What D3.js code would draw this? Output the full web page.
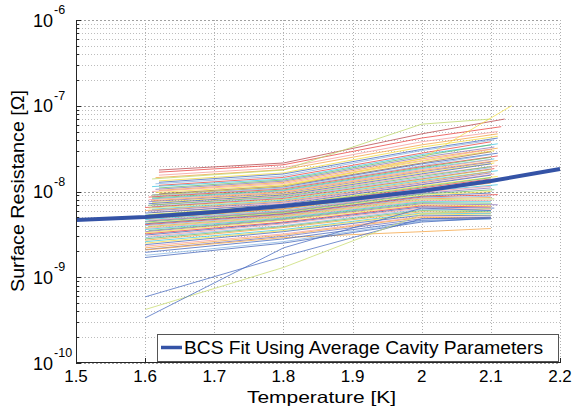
<!DOCTYPE html>
<html><head><meta charset="utf-8">
<script src="https://cdn.jsdelivr.net/npm/d3@7"></script>
<style>body{margin:0;background:#fff} svg{display:block;font-family:Arial,"Liberation Sans",sans-serif}</style>
</head><body><svg id="c" width="573" height="409"></svg>
<script>
// ---- data ----
const xTickValues = [1.5, 1.6, 1.7, 1.8, 1.9, 2.0, 2.1, 2.2];
const xTickLabels = ["1.5", "1.6", "1.7", "1.8", "1.9", "2", "2.1", "2.2"];
const yDecadeExponents = [-10, -9, -8, -7, -6];

const bcsT = [1.5, 1.6, 1.7, 1.8, 1.9, 2.0, 2.1, 2.2];
const bcsRs = [4.65e-9, 5.04e-9, 5.77e-9, 6.78e-9, 8.18e-9, 1.013e-8, 1.326e-8, 1.83e-8];
const legendLabel = "BCS Fit Using Average Cavity Parameters";

const cavityMidT = [1.8, 2.0];
const cavityStartT = [1.62,1.62,1.62,1.615,1.61,1.62,1.62,1.615,1.62,1.61,1.62,1.615,1.62,1.61,1.615,1.62,1.61,1.61,
 1.61,1.605,1.61,1.61,1.605,1.61,1.605,1.61,1.605,1.61,1.605,1.61,1.6,1.605,1.61,1.6,1.605,1.61,1.6,1.605,1.6,1.605,
 1.6,1.605,1.6,1.6,1.605,1.6,1.6,1.605,1.6,1.6,1.6,1.605,1.6,1.6,1.6,1.605,1.6,1.6,1.6,1.6,1.605,1.6,1.6,1.6,1.6,1.6,1.6,
 1.6,1.6,1.6,1.6,1.6,1.6,1.6,1.6,1.6,1.6];
const cavityEndT = [2.12,2.115,2.11,2.11,2.1,2.11,2.11,2.105,2.1,2.11,2.1,2.105,2.11,2.1,2.105,2.1,2.11,2.13,
 2.1,2.11,2.1,2.105,2.1,2.11,2.1,2.105,2.1,2.11,2.1,2.1,2.105,2.1,2.11,2.1,2.1,2.105,2.1,2.11,2.1,2.1,
 2.105,2.1,2.1,2.11,2.1,2.1,2.105,2.1,2.1,2.11,2.1,2.1,2.105,2.1,2.1,2.1,2.11,2.1,2.1,2.105,2.1,2.1,2.1,2.1,2.1,2.1,2.1,
 2.1,2.1,2.1,2.1,2.1,2.1,2.1,2.1,2.1,2.1];
// surface resistance in nano-ohm at [start, 1.8 K, 2.0 K, end]
const cavityRsNano = [
 [17.8,21.5,47,70],[16.8,20.5,42,57],[15.5,19,38,50],[14.5,18,35,47],[14,17.8,61,70],
 [13.3,16.5,33,44],[12.8,16,31,42],[12.3,15.2,30,40],[11.8,14.6,28,38],[11.4,14,27,36],
 [11,13.6,26,35],[10.6,13.2,25,33],[10.3,12.8,24,32],[10,12.4,23,31],[9.7,12,22.5,30],
 [9.4,11.6,21.5,29],[9.1,11.3,21,28],[9,11.5,24,100],[8.8,11,20,27],[8.6,10.7,19.5,26],
 [8.4,10.4,19,25],[8.2,10.2,18.5,24],[8,10,18,23.5],[7.8,9.8,17.5,23],[7.6,9.5,17,22],
 [7.4,9.3,16.5,21.5],[7.2,9.1,16,21],[7,8.9,15.5,20],[6.9,8.7,15,19.5],[6.7,8.5,14.5,19],
 [6.5,8.3,14,18.5],[6.4,8.1,13.8,18],[6.2,7.9,13.4,17.5],[6,7.7,13,17],[5.9,7.5,12.6,16.5],
 [5.7,7.3,12.2,16],[5.6,7.1,12,15.5],[5.4,6.9,11.6,15],[5.3,6.8,11.3,14.5],[5.2,6.6,11,14],
 [5,6.5,10.7,13.5],[4.9,6.3,10.4,13],[4.8,6.2,10.2,12.5],[4.7,6,10,12],[4.6,5.9,9.8,11.5],
 [4.5,5.8,9.5,11],[4.4,5.7,9.3,10.5],[4.3,5.6,9,10],[4.2,5.5,8.8,9.6],[4.1,5.4,8.6,9.2],
 [4,5.3,8.4,8.8],[3.9,5.2,8.2,8.5],[3.8,5.1,8,8.2],[3.7,5,7.8,7.9],[3.6,4.9,7.6,7.6],
 [3.5,4.8,7.4,7.3],[3.4,4.7,7.2,7],[3.3,4.6,7,6.8],[3.2,4.4,6.8,6.6],[3.1,4.3,6.6,6.4],
 [3,4.2,6.4,6.2],[2.9,4,6.2,6],[2.8,3.9,6,5.8],[2.7,3.8,5.8,5.6],[2.6,3.6,5.6,5.5],
 [2.5,3.5,5.5,5.3],[2.4,3.4,5.3,5.2],[2.3,3.2,5.1,5],[2.2,3.1,5,4.9],[2.1,3,4.8,4.9],
 [2.08,2.9,3.4,3.7],[1.95,2.8,4.6,4.8],[1.8,2.6,4.5,4.8],[1.7,2.5,4.4,4.9],
 [0.59,1.75,4.8,5],[0.42,1.3,5.4,6.4],[0.335,2.2,6.4,6]
];
const cavityColors = [
 "#b8454a","#e8423f","#f49a9a","#f5a341","#bcd86a","#f2dc3c","#4466bb","#86b4e2","#e8423f","#3fc4e0",
 "#66bb66","#8a74b8","#f5a341","#f49a9a","#f2dc3c","#a8703a","#4466bb","#f2e04a","#86b4e2","#e8423f",
 "#66bb66","#3fc4e0","#f49a9a","#f5a341","#8a74b8","#f2dc3c","#4466bb","#f49a9a","#66bb66","#86b4e2",
 "#e8423f","#bcd86a","#3fc4e0","#f5a341","#8a74b8","#f49a9a","#4466bb","#f2dc3c","#66bb66","#e8423f",
 "#86b4e2","#a8703a","#f5a341","#3fc4e0","#f49a9a","#8a74b8","#66bb66","#f2dc3c","#4466bb","#e8423f",
 "#86b4e2","#f5a341","#bcd86a","#f49a9a","#3fc4e0","#66bb66","#8a74b8","#f2dc3c","#e8423f","#4466bb",
 "#f49a9a","#86b4e2","#66bb66","#f5a341","#3fc4e0","#f2dc3c","#4466bb","#f49a9a","#f5a341","#6a70c0",
 "#f5a341","#4466bb","#86b4e2","#4466bb","#4a6cc0","#c8dc70","#4a6cc0"
];

// ---- layout ----
const svg = d3.select("#c");
const x = d3.scaleLinear().domain([1.5, 2.2]).range([76, 560]);
const y = d3.scaleLog().domain([1e-10, 1e-6]).range([363, 20]);
const BCS_COLOR = "#3453a6";

// grid
const grid = svg.append("g");
const minorVals = [];
yDecadeExponents.slice(0, -1).forEach(e => { for (let k = 2; k <= 9; k++) minorVals.push(k * Math.pow(10, e)); });
grid.selectAll(".ymin").data(minorVals).enter().append("line")
  .attr("x1", x(1.5)).attr("x2", x(2.2)).attr("y1", d => Math.round(y(d)) + 0.5).attr("y2", d => Math.round(y(d)) + 0.5)
  .attr("stroke", "#bdbdbd").attr("stroke-dasharray", "1,2");
grid.selectAll(".ymaj").data(yDecadeExponents.map(e => Math.pow(10, e))).enter().append("line")
  .attr("x1", x(1.5)).attr("x2", x(2.2)).attr("y1", d => Math.round(y(d)) + 0.5).attr("y2", d => Math.round(y(d)) + 0.5)
  .attr("stroke", "#a0a0a0").attr("stroke-dasharray", "2,2");
grid.selectAll(".xg").data(xTickValues.slice(1)).enter().append("line")
  .attr("x1", d => Math.round(x(d)) + 0.5).attr("x2", d => Math.round(x(d)) + 0.5).attr("y1", y(1e-6)).attr("y2", y(1e-10))
  .attr("stroke", "#b0b0b0").attr("stroke-dasharray", "1,2");

// cavity lines
const line = d3.line().x(d => x(d[0])).y(d => y(d[1]));
const cavityPts = cavityRsNano.map((r, i) => {
  const ts = [cavityStartT[i], cavityMidT[0], cavityMidT[1], cavityEndT[i]];
  return ts.map((t, j) => [t, r[j] * 1e-9]);
});
svg.append("g").selectAll("path").data(cavityPts).enter().append("path")
  .attr("d", line).attr("fill", "none")
  .attr("stroke", (d, i) => cavityColors[i]).attr("stroke-width", 0.9).attr("stroke-opacity", 0.85);

// BCS fit
svg.append("path").datum(bcsT.map((t, i) => [t, bcsRs[i]]))
  .attr("d", line).attr("fill", "none").attr("stroke", BCS_COLOR).attr("stroke-width", 4);

// axes
const ax = svg.append("g").attr("stroke", "#262626");
ax.append("line").attr("x1", 76.5).attr("x2", 76.5).attr("y1", 20).attr("y2", 363.5);
ax.append("line").attr("x1", 76).attr("x2", 560).attr("y1", 362.5).attr("y2", 362.5);
ax.selectAll(".xt").data(xTickValues).enter().append("line")
  .attr("x1", d => Math.round(x(d)) + 0.5).attr("x2", d => Math.round(x(d)) + 0.5).attr("y1", 363).attr("y2", 358);
ax.selectAll(".ytm").data(yDecadeExponents.map(e => Math.pow(10, e))).enter().append("line")
  .attr("x1", 76).attr("x2", 81).attr("y1", d => Math.round(y(d)) + 0.5).attr("y2", d => Math.round(y(d)) + 0.5);
ax.selectAll(".ytn").data(minorVals).enter().append("line")
  .attr("x1", 76).attr("x2", 79).attr("y1", d => Math.round(y(d)) + 0.5).attr("y2", d => Math.round(y(d)) + 0.5);

// tick labels
svg.append("g").selectAll("text").data(xTickValues).enter().append("text")
  .attr("x", d => x(d)).attr("y", 382).attr("text-anchor", "middle").attr("font-size", 17).attr("fill", "#000")
  .text((d, i) => xTickLabels[i]);
const yl = svg.append("g").selectAll("text").data(yDecadeExponents).enter().append("text")
  .attr("x", 33).attr("y", d => y(Math.pow(10, d)) + 6.5).attr("text-anchor", "start").attr("font-size", 18).attr("fill", "#000");
yl.append("tspan").text("10");
yl.append("tspan").attr("dy", -12.5).attr("dx", 1).attr("font-size", 12.5).text(d => String(d));

// axis titles
svg.append("text").attr("x", 247).attr("y", 403).attr("font-size", 16.5)
  .attr("textLength", 149).attr("lengthAdjust", "spacingAndGlyphs").text("Temperature [K]");
svg.append("text").attr("transform", "translate(24,292) rotate(-90)").attr("font-size", 17.5)
  .attr("textLength", 202).attr("lengthAdjust", "spacingAndGlyphs").text("Surface Resistance [\u03A9]");

// legend
const lg = svg.append("g");
lg.append("rect").attr("x", 157.5).attr("y", 334.5).attr("width", 401).attr("height", 27)
  .attr("fill", "#fff").attr("stroke", "#555");
lg.append("line").attr("x1", 161).attr("x2", 182).attr("y1", 347.5).attr("y2", 347.5)
  .attr("stroke", BCS_COLOR).attr("stroke-width", 3.5);
lg.append("text").attr("x", 184).attr("y", 354).attr("font-size", 17.5)
  .attr("textLength", 359).attr("lengthAdjust", "spacingAndGlyphs").text(legendLabel);
</script></body></html>
